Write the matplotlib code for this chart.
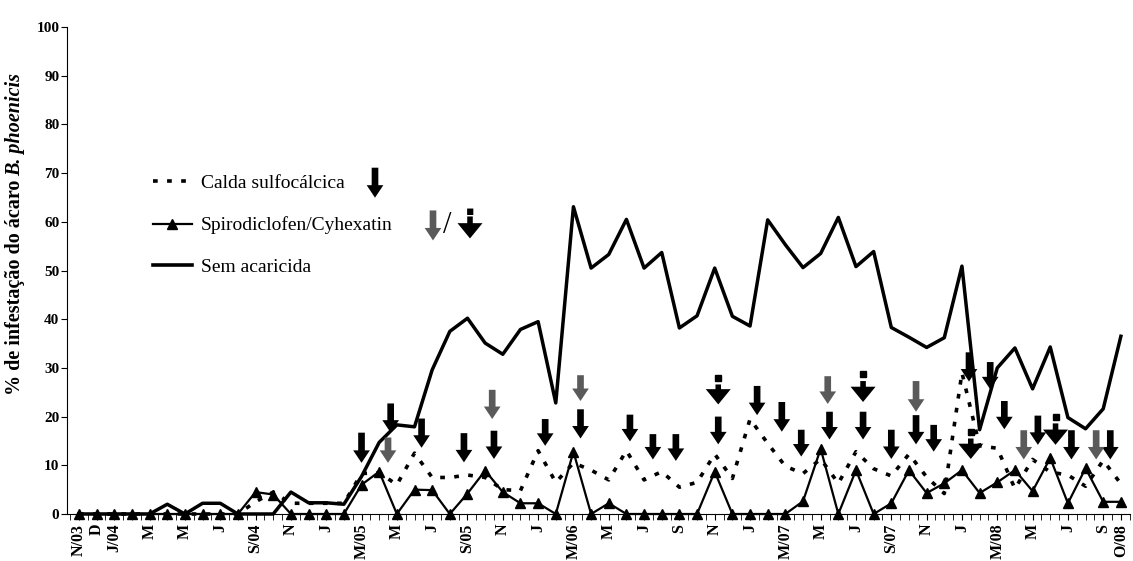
import numpy as np
import matplotlib.pyplot as plt
from matplotlib.lines import Line2D

plt.rcParams['font.family'] = ['Liberation Serif', 'DejaVu Serif']

# meses de N/03 (0) a O/08 (59)
meses = list(range(60))

sem_acaricida = [0, 0, 0, 0, 0, 2.0, 0, 2.2, 2.2, 0,
                 0, 0, 4.5, 2.3, 2.3, 2.0, 7.7, 14.7, 18.3, 17.9,
                 29.6, 37.5, 40.2, 35.1, 32.8, 37.9, 39.5, 22.8, 63.1, 50.5,
                 53.3, 60.5, 50.5, 53.7, 38.2, 40.7, 50.5, 40.6, 38.6, 60.4,
                 55.3, 50.6, 53.5, 60.9, 50.8, 53.9, 38.3, 36.3, 34.2, 36.2,
                 50.9, 17.3, 30.0, 34.1, 25.7, 34.3, 19.8, 17.5, 21.6, 36.5]

spiro_cyhex = [0, 0, 0, 0, 0, 0, 0, 0, 0, 0,
               4.5, 4.0, 0, 0, 0, 0, 6.0, 8.7, 0, 5.0,
               4.9, 0, 4.2, 8.9, 4.5, 2.2, 2.2, 0, 12.8, 0,
               2.2, 0, 0, 0, 0, 0, 8.7, 0, 0, 0,
               0, 2.6, 13.4, 0, 9.0, 0, 2.2, 9.0, 4.3, 6.3,
               9.0, 4.3, 6.5, 9.0, 4.7, 11.5, 2.2, 9.4, 2.5, 2.5]

calda = [0, 0, 0, 0, 0, 0, 0, 0, 0, 0,
         2.5, 4.5, 2.2, 2.2, 2.2, 2.2, 8.3, 8.5, 6.0, 12.5,
         7.5, 7.5, 8.0, 7.5, 5.0, 4.8, 13.0, 6.5, 10.5, 9.0,
         7.0, 13.0, 7.0, 8.7, 5.5, 6.5, 12.3, 7.3, 19.5, 14.5,
         9.8, 8.3, 11.3, 6.3, 12.8, 9.3, 7.8, 12.3, 7.6, 4.2,
         29.0, 14.0, 13.5, 5.2, 11.2, 8.6, 8.0, 5.7, 11.0, 6.2]

tick_pos = [0, 1, 2, 4, 6, 8, 10, 12, 14, 16, 18, 20, 22, 24, 26, 28, 30,
            32, 34, 36, 38, 40, 42, 44, 46, 48, 50, 52, 54, 56, 58, 59]
tick_lab = ['N/03', 'D', 'J/04', 'M', 'M', 'J', 'S/04', 'N', 'J', 'M/05', 'M',
            'J', 'S/05', 'N', 'J', 'M/06', 'M', 'J', 'S', 'N', 'J', 'M/07', 'M',
            'J', 'S/07', 'N', 'J', 'M/08', 'M', 'J', 'S', 'O/08']

# aplicacoes: posicao (mes), topo e ponta da seta (%)
calda_x = [16.0, 17.65, 19.4, 21.8, 23.5, 26.4, 28.4, 31.2, 32.5, 33.8, 36.2,
           38.4, 39.8, 40.9, 42.5, 44.4, 46.0, 47.4, 48.4, 50.4, 51.6, 52.4,
           54.3, 56.2, 58.4]
calda_top = [16.7, 22.7, 19.6, 16.6, 17.1, 19.5, 21.5, 20.4, 16.4, 16.4, 20.0,
             26.3, 23.0, 17.3, 21.0, 21.0, 17.3, 20.3, 18.3, 33.2, 31.2, 23.2,
             20.2, 17.2, 17.2]
calda_tip = [10.5, 16.7, 13.6, 10.6, 11.3, 14.0, 15.5, 14.9, 11.2, 10.9, 14.3,
             20.3, 16.9, 11.8, 15.3, 15.3, 11.3, 14.3, 12.8, 27.2, 25.6, 17.4,
             14.2, 11.2, 11.2]

spiro_x = [17.5, 23.4, 28.4, 42.4, 47.4, 53.5, 57.6]
spiro_top = [15.7, 25.5, 28.5, 28.3, 27.3, 17.2, 17.2]
spiro_tip = [10.5, 19.5, 23.2, 22.6, 21.0, 11.2, 11.2]

cyhex_x = [36.2, 44.4, 50.5, 55.3]
cyhex_sq = [28.0, 28.7, 16.9, 19.9]
cyhex_top = [26.6, 27.3, 15.5, 18.6]
cyhex_tip = [22.5, 23.0, 11.3, 14.2]

cinza = '#5a5a5a'
seta_fina = 'simple,head_length=0.45,head_width=0.6,tail_width=0.24'
seta_larga = 'simple,head_length=0.55,head_width=0.9,tail_width=0.2'

fig = plt.figure(figsize=(11.33, 5.61), dpi=100)
ax = fig.add_axes([0.0591, 0.0838, 0.938, 0.868])

ax.plot(meses, calda, color='k', lw=2.6, ls=(0, (1.3, 2.6)), clip_on=False)
ax.plot(meses, spiro_cyhex, color='k', lw=1.6, marker='^', ms=7, clip_on=False)
ax.plot(meses, sem_acaricida, color='k', lw=2.5, clip_on=False)


def seta(x, top, tip, cor, estilo, coords='data'):
    ax.annotate('', xy=(x, tip), xytext=(x, top), xycoords=coords,
                textcoords=coords,
                arrowprops=dict(arrowstyle=estilo, color=cor, lw=0,
                                shrinkA=0, shrinkB=0, mutation_scale=20))


for x, t, p in zip(calda_x, calda_top, calda_tip):
    seta(x, t, p, 'k', seta_fina)
for x, t, p in zip(spiro_x, spiro_top, spiro_tip):
    seta(x, t, p, cinza, seta_fina)
for x, s, t, p in zip(cyhex_x, cyhex_sq, cyhex_top, cyhex_tip):
    seta(x, t, p, 'k', seta_larga)
    ax.plot(x, s, marker='s', ms=3.8, color='k', ls='none')

ax.set_xlim(-0.68, 59.3)
ax.set_ylim(0, 100)
ax.set_yticks(range(0, 101, 10))
ax.set_yticklabels([str(v) for v in range(0, 101, 10)], fontsize=11,
                   fontweight='bold')
ax.set_xticks(tick_pos)
ax.set_xticklabels(tick_lab, rotation=90, fontsize=11.5, fontweight='bold')
ax.set_xticks(np.arange(-0.5, 59.6, 0.5), minor=True)
ax.tick_params(axis='y', direction='out', length=4, pad=1.5)
ax.tick_params(axis='x', which='both', direction='out', length=4, pad=3)
for s in ['top', 'right']:
    ax.spines[s].set_visible(False)

h1 = Line2D([], [], color='k', lw=2.6, ls=(0, (1.3, 2.6)))
h2 = Line2D([], [], color='k', lw=1.6, marker='^', ms=7)
h3 = Line2D([], [], color='k', lw=2.6)
leg = ax.legend([h1, h2, h3],
                ['Calda sulfocálcica', 'Spirodiclofen/Cyhexatin', 'Sem acaricida'],
                loc='upper left', bbox_to_anchor=(0.081, 0.697), frameon=False,
                fontsize=14, handlelength=2.0, handletextpad=0.45,
                labelspacing=1.25, borderpad=0, borderaxespad=0, numpoints=1)

# rotulo do eixo y: parte normal + nome da especie em italico
t1 = fig.text(0.0132, (561 - 395) / 561, '% de infestação do ácaro',
              rotation=90, ha='center', va='bottom', fontsize=14.5,
              fontweight='bold')
fig.canvas.draw()
bb = t1.get_window_extent()
fig.text(0.0132, (bb.y1 + 4) / 561, 'B. phoenicis', rotation=90, ha='center',
         va='bottom', fontsize=14.5, fontweight='bold', style='italic')

# setas da legenda
textos = leg.get_texts()
y1 = textos[0].get_window_extent()
y2 = textos[1].get_window_extent()
c1 = (y1.y0 + y1.y1) / 2
c2 = (y2.y0 + y2.y1) / 2
seta(375, c1 + 16, c1 - 14, 'k', seta_fina, 'figure pixels')
seta(433, c2 + 15, c2 - 15, cinza, seta_fina, 'figure pixels')
fig.text(447 / 1133, c2 / 561, '/', fontsize=22, ha='center', va='center')
seta(470, c2 + 9, c2 - 13, 'k', seta_larga, 'figure pixels')
fig.text(470 / 1133, (c2 + 14) / 561, '\u25aa', fontsize=9, ha='center',
         va='center', family='DejaVu Sans')

fig.savefig('out.png', dpi=100)
